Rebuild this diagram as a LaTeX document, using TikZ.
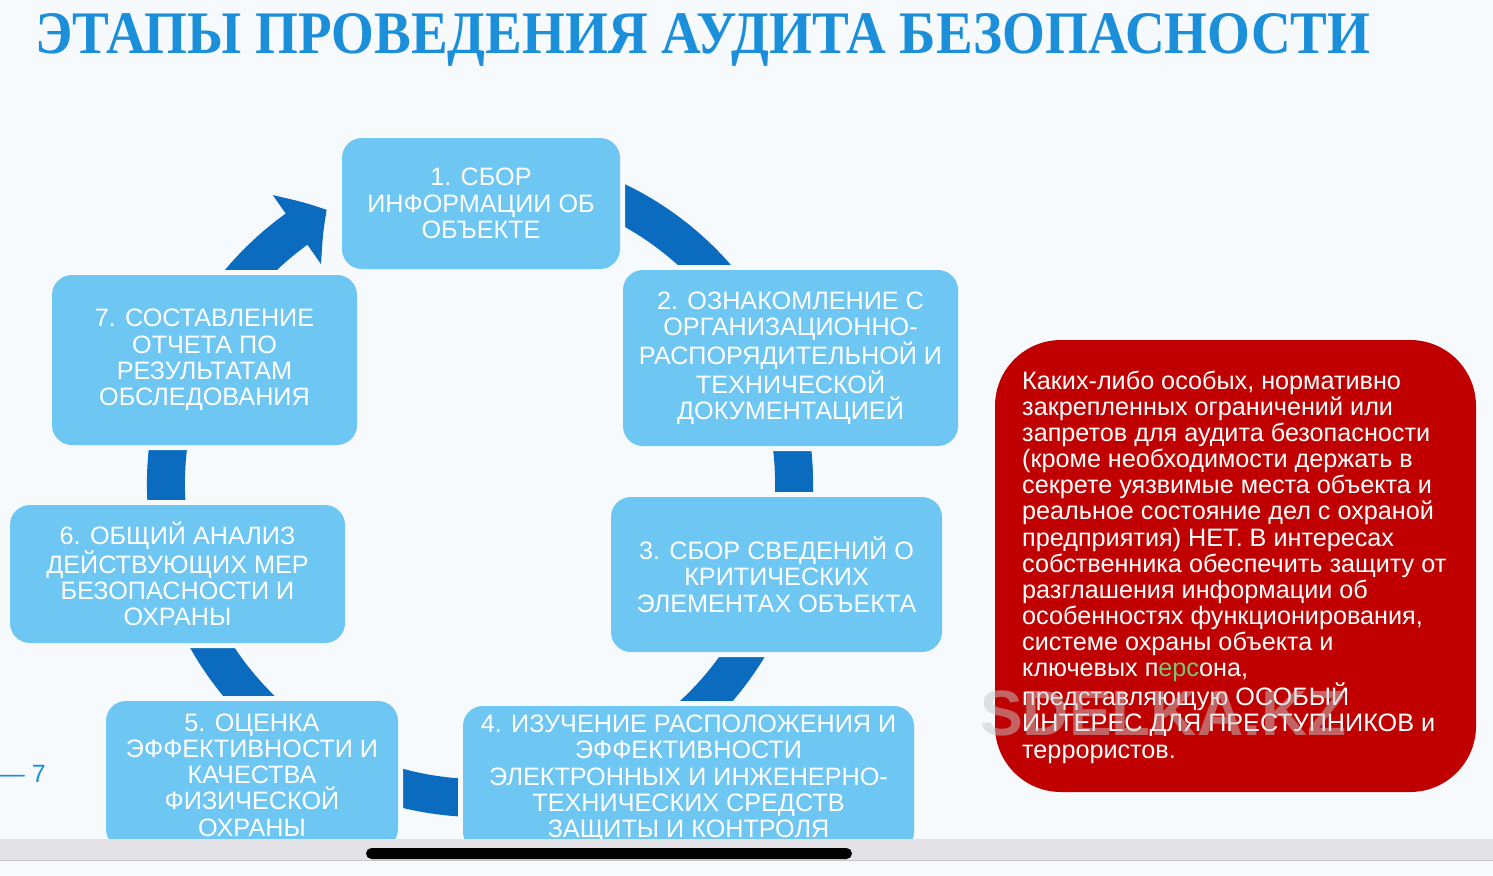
\documentclass[tikz,border=0pt]{standalone}
\usepackage{graphicx}
\usepackage{fontspec}
\setmainfont{Liberation Sans}
\newfontfamily\titlefont{Liberation Serif}
\usetikzlibrary{arrows.meta,bending}
\definecolor{bgc}{HTML}{F6FAFD}
\definecolor{boxc}{HTML}{6EC6F2}
\definecolor{ringc}{HTML}{0B6CBF}
\definecolor{redc}{HTML}{C00000}
\definecolor{titlec}{HTML}{1B8FD9}
\definecolor{barc}{HTML}{E3E2E6}
\definecolor{greenc}{HTML}{7CC576}
\begin{document}
\begin{tikzpicture}[x=1pt,y=1pt,
  stagebox/.style={fill=boxc, rounded corners=20pt,
    preaction={draw=bgc, line width=10pt, rounded corners=20pt},
    text=white, align=center, inner sep=0pt,
    font=\fontsize{25.2}{26.3}\selectfont},
  redbox/.style={fill=redc, rounded corners=66pt, inner sep=0pt},
  redtext/.style={text=white, align=left, inner sep=0pt,
    font=\fontsize{25.2}{26.15}\selectfont},
  ring/.style={draw=ringc, line width=38pt}]
\useasboundingbox (0,0) rectangle (1493,-875);
\fill[bgc] (0,0) rectangle (1493,-875);
% title
\node[anchor=base west, inner sep=0pt, text=titlec] (title) at (35,-53)
  {\resizebox{1335pt}{40pt}{\titlefont\bfseries ЭТАПЫ ПРОВЕДЕНИЯ АУДИТА БЕЗОПАСНОСТИ}};
% ring
\coordinate (rc) at (480,-484);
\draw[ring, -{Triangle[width=82pt,length=36pt,bend]}]
  (rc) ++(70:314) arc[start angle=70, end angle=-240.8, radius=314];
% stage boxes
\node[stagebox, minimum width=278pt, minimum height=131pt] (b1) at (481,-203.5)
  {1. СБОР\\ИНФОРМАЦИИ ОБ\\ОБЪЕКТЕ};
\node[stagebox, minimum width=335pt, minimum height=176pt] (b2) at (790.5,-358)
  {2. ОЗНАКОМЛЕНИЕ С\\ОРГАНИЗАЦИОННО-\\РАСПОРЯДИТЕЛЬНОЙ И\\ТЕХНИЧЕСКОЙ\\ДОКУМЕНТАЦИЕЙ};
\node[stagebox, minimum width=331pt, minimum height=155pt] (b3) at (776.5,-574.5)
  {3. СБОР СВЕДЕНИЙ О\\КРИТИЧЕСКИХ\\ЭЛЕМЕНТАХ ОБЪЕКТА};
\node[stagebox, minimum width=451pt, minimum height=146pt] (b4) at (688.5,-779)
  {4. ИЗУЧЕНИЕ РАСПОЛОЖЕНИЯ И\\ЭФФЕКТИВНОСТИ\\ЭЛЕКТРОННЫХ И ИНЖЕНЕРНО-\\ТЕХНИЧЕСКИХ СРЕДСТВ\\ЗАЩИТЫ И КОНТРОЛЯ};
\node[stagebox, minimum width=292pt, minimum height=148pt] (b5) at (252,-775)
  {5. ОЦЕНКА\\ЭФФЕКТИВНОСТИ И\\КАЧЕСТВА\\ФИЗИЧЕСКОЙ\\ОХРАНЫ};
\node[stagebox, minimum width=335pt, minimum height=138pt] (b6) at (177.5,-574)
  {6. ОБЩИЙ АНАЛИЗ\\ДЕЙСТВУЮЩИХ МЕР\\БЕЗОПАСНОСТИ И\\ОХРАНЫ};
\node[stagebox, minimum width=305pt, minimum height=170pt] (b7) at (204.5,-360)
  {7. СОСТАВЛЕНИЕ\\ОТЧЕТА ПО\\РЕЗУЛЬТАТАМ\\ОБСЛЕДОВАНИЯ};
% red note
\node[redbox, minimum width=481pt, minimum height=452pt] (rb) at (1235.5,-566) {};
\node[redtext, anchor=west] (rt) at (1022,-567)
  {Каких-либо особых, нормативно\\
   закрепленных ограничений или\\
   запретов для аудита безопасности\\
   (кроме необходимости держать в\\
   секрете уязвимые места объекта и\\
   реальное состояние дел с охраной\\
   предприятия) НЕТ. В интересах\\
   собственника обеспечить защиту от\\
   разглашения информации об\\
   особенностях функционирования,\\
   системе охраны объекта и\\
   ключевых п{\color{greenc}ерс}она,\\
   представляющую ОСОБЫЙ\\
   ИНТЕРЕС ДЛЯ ПРЕСТУПНИКОВ и\\
   террористов.};
% watermark
\node[anchor=base west, inner sep=0pt, text=gray!45, opacity=0.5,
  font=\fontsize{64}{70}\selectfont\bfseries] (wm) at (980,-735) {SDELKA.KZ};
% page number
\node[anchor=base east, inner sep=0pt, text=titlec,
  font=\fontsize{25}{30}\selectfont] (pg) at (46,-782) {— 7};
% bottom bar
\fill[barc] (0,-839) rectangle (1493,-861);
\draw[gray!45, line width=1.2pt] (0,-860.4) -- (1493,-860.4);
\fill[black, rounded corners=5.5pt] (366,-848) rectangle (852,-859);
\end{tikzpicture}
\end{document}
